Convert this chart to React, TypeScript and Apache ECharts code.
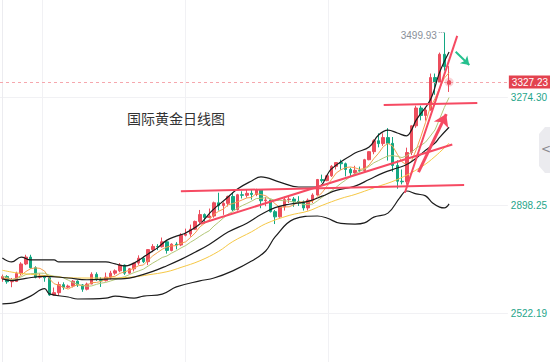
import { useEffect, useRef } from 'react';
import * as echarts from 'echarts';

// Daily OHLC (index 0 .. 95)
const opens = [
  2643, 2650, 2632, 2633, 2661, 2694, 2718, 2681, 2648, 2652,
  2646, 2586, 2594, 2622, 2613, 2617, 2634, 2621, 2606, 2624,
  2658, 2640, 2636, 2648, 2662, 2670, 2690, 2662, 2677, 2697,
  2714, 2702, 2744, 2755, 2754, 2771, 2741, 2763, 2760, 2794,
  2798, 2815, 2842, 2866, 2856, 2861, 2907, 2897, 2905, 2929,
  2883, 2935, 2933, 2940, 2936, 2953, 2914, 2917, 2876, 2858,
  2893, 2918, 2920, 2912, 2910, 2889, 2916, 2934, 2988, 2984,
  3001, 3034, 3047, 3043, 3023, 3011, 3020, 3019, 3057, 3085,
  3123, 3113, 3134, 3114, 3037, 2982, 2980, 3082, 3175, 3237,
  3211, 3230, 3343, 3327, 3424, 3320,
];
const closes = [
  2650, 2632, 2633, 2661, 2694, 2718, 2681, 2648, 2652, 2646,
  2586, 2594, 2622, 2613, 2617, 2634, 2621, 2606, 2624, 2658,
  2640, 2636, 2648, 2662, 2670, 2690, 2662, 2677, 2697, 2714,
  2702, 2744, 2755, 2754, 2771, 2741, 2763, 2760, 2794, 2798,
  2815, 2842, 2866, 2856, 2861, 2907, 2897, 2905, 2929, 2883,
  2935, 2933, 2940, 2936, 2953, 2914, 2917, 2876, 2858, 2893,
  2918, 2920, 2912, 2910, 2889, 2916, 2934, 2988, 2984, 3001,
  3034, 3047, 3043, 3023, 3011, 3020, 3019, 3057, 3085, 3123,
  3113, 3134, 3114, 3037, 2982, 2980, 3082, 3175, 3237, 3211,
  3230, 3343, 3327, 3424, 3381, 3327.23,
];
const lows = [
  2632, 2625, 2613, 2631, 2655, 2690, 2678, 2644, 2643, 2632,
  2583, 2583, 2583, 2604, 2609, 2612, 2614, 2597, 2602, 2624,
  2635, 2614, 2633, 2640, 2656, 2665, 2656, 2660, 2668, 2691,
  2697, 2690, 2735, 2742, 2751, 2730, 2738, 2745, 2756, 2790,
  2789, 2812, 2836, 2834, 2853, 2855, 2880, 2865, 2894, 2878,
  2880, 2922, 2925, 2918, 2930, 2888, 2895, 2873, 2833, 2855,
  2880, 2906, 2893, 2896, 2880, 2880, 2906, 2932, 2977, 2982,
  2997, 3023, 3022, 2999, 2999, 3006, 3013, 3016, 3055, 3076,
  3100, 3105, 3054, 3015, 2956, 2971, 2970, 3073, 3168, 3194,
  3193, 3228, 3283, 3326, 3367, 3293,
];
const highs = [
  2657, 2655, 2645, 2667, 2700, 2726, 2726, 2686, 2661, 2653,
  2651, 2612, 2632, 2630, 2622, 2638, 2637, 2624, 2629, 2665,
  2665, 2648, 2664, 2670, 2675, 2697, 2692, 2680, 2698, 2724,
  2720, 2745, 2763, 2763, 2786, 2773, 2766, 2770, 2801, 2817,
  2831, 2845, 2882, 2870, 2887, 2911, 2942, 2909, 2932, 2943,
  2938, 2947, 2955, 2954, 2956, 2954, 2928, 2918, 2882, 2895,
  2928, 2929, 2927, 2930, 2915, 2922, 2940, 2990, 3005, 3004,
  3038, 3048, 3057, 3047, 3029, 3036, 3033, 3060, 3087, 3128,
  3149, 3149, 3167, 3136, 3055, 3023, 3099, 3176, 3245, 3245,
  3240, 3357, 3357, 3430, 3499.93, 3383,
];

const ma5 = [
  2644, 2643, 2640, 2644, 2654, 2667.6, 2677.4, 2680.4, 2678.6, 2669,
  2642.6, 2625.2, 2620, 2612.2, 2606.4, 2616, 2621.4, 2618.2, 2620.4, 2628.6,
  2629.8, 2632.8, 2641.2, 2648.8, 2651.2, 2661.2, 2666.4, 2672.2, 2679.2, 2688,
  2690.4, 2706.8, 2722.4, 2733.8, 2745.2, 2753, 2756.8, 2757.8, 2765.8, 2771.2,
  2786, 2801.8, 2823, 2835.4, 2848, 2866.4, 2877.4, 2885.2, 2899.8, 2904.2,
  2909.8, 2917, 2924, 2925.4, 2939.4, 2935.2, 2932, 2919.2, 2903.6, 2891.6,
  2892.4, 2893, 2900.2, 2910.6, 2909.8, 2909.4, 2912.2, 2927.4, 2942.2, 2964.6,
  2988.2, 3010.8, 3021.8, 3029.6, 3031.6, 3028.8, 3023.2, 3026, 3038.4, 3060.8,
  3079.4, 3102.4, 3113.8, 3104.2, 3076, 3049.4, 3039, 3051.2, 3091.2, 3137,
  3187, 3239.2, 3269.6, 3307, 3341, 3360.4,
];
const ma10 = [
  2651, 2647, 2639, 2643, 2649, 2657, 2660, 2661, 2662, 2661.5,
  2655.1, 2651.3, 2650.2, 2645.4, 2637.7, 2629.3, 2623.3, 2619.1, 2616.3, 2617.5,
  2622.9, 2627.1, 2629.7, 2634.6, 2639.9, 2645.5, 2649.6, 2656.7, 2664, 2669.6,
  2675.8, 2686.6, 2697.3, 2706.5, 2716.6, 2721.7, 2731.8, 2740.1, 2749.8, 2758.2,
  2769.5, 2779.3, 2790.4, 2800.6, 2809.6, 2826.2, 2839.6, 2854.1, 2867.6, 2876.1,
  2888.1, 2897.2, 2904.6, 2912.6, 2921.8, 2922.5, 2924.5, 2921.6, 2914.5, 2915.5,
  2913.8, 2912.5, 2909.7, 2907.1, 2900.7, 2900.9, 2902.6, 2913.8, 2926.4, 2937.2,
  2948.8, 2961.5, 2974.6, 2985.9, 2998.1, 3008.5, 3017, 3023.9, 3034, 3046.2,
  3054.1, 3062.8, 3069.9, 3071.3, 3068.4, 3064.4, 3070.7, 3082.5, 3097.7, 3106.5,
  3118.2, 3139.1, 3160.4, 3199.1, 3239, 3273.7,
];

// [candle index, price] key points
const ma30Pts = [
  [0, 2672], [3, 2663], [6, 2658], [10, 2652], [14, 2646], [18, 2645], [23, 2645],
  [28, 2649], [31, 2656], [35, 2667], [38, 2682], [42, 2705], [46, 2738], [49, 2772],
  [53, 2806], [56, 2834], [61, 2863], [65, 2878], [68, 2898], [72, 2922], [75, 2936],
  [79, 2959], [84, 2988], [89, 3031], [92, 3068], [95, 3115],
];
const bollUpperPts = [
  [0, 2715], [2, 2701], [4, 2718], [6, 2708], [11, 2708], [12, 2701], [22, 2701],
  [24, 2694], [26, 2687], [28, 2697], [31, 2729], [33, 2750], [35, 2777], [37, 2791],
  [39, 2802], [42, 2833], [44.5, 2878], [47.5, 2920], [50, 2955], [53, 2983], [55, 2997],
  [59, 2979], [63, 2962], [67, 2962], [70, 3025], [75, 3080], [78, 3101], [80, 3143],
  [82, 3160], [84, 3150], [86, 3140], [87, 3160], [88, 3195], [91, 3265], [93, 3362],
  [95, 3432],
];
const bollMidPts = [
  [0, 2642], [2, 2636], [5, 2644], [9, 2651], [14, 2645], [18, 2639], [23, 2642],
  [26, 2643], [28, 2648], [32, 2668], [35, 2688], [38, 2710], [41, 2735], [44, 2762],
  [48, 2805], [52, 2836], [55, 2866], [58, 2890], [61, 2902], [65, 2912], [68, 2930],
  [71, 2950], [75, 2965], [78, 2988], [81, 3011], [84, 3028], [86, 3040], [88, 3062],
  [90, 3090], [92, 3115], [93, 3135], [95, 3170],
];
const bollLowerPts = [
  [0, 2555], [3, 2561], [6, 2582], [9, 2608], [10, 2590], [14, 2579], [16, 2572],
  [22, 2575], [24, 2582], [28, 2575], [30, 2582], [34, 2589], [37, 2614], [42, 2635],
  [45, 2645], [49, 2670], [53, 2704], [56, 2739], [58, 2788], [62, 2850], [67, 2861],
  [69, 2854], [72, 2835], [75, 2833], [77, 2837], [79, 2857], [82, 2871], [84.5, 2924],
  [86, 2948], [88, 2938], [90, 2931], [91.5, 2906], [93, 2892], [94, 2889], [95, 2903],
];

const priceTicks = [2522.19, 2898.25, 3274.3];
const timeGridIdx = [8.38, 38.82, 69.25];
const yMin = 2352.6;
const yMax = 3613.1;
const futureSlots = 12;
const lastPrice = 3327.23;
const peakPrice = 3499.93;
const peakIndex = 94;

// hand drawn annotations: [[index, price], [index, price]]
const trendLines = [
  [[37.97, 2947], [98.2, 2969]],
  [[42.13, 2834], [95.68, 3110]],
  [[81.1, 3247.5], [101.0, 3254.4]],
  [[85.6, 2942], [96.73, 3488]],
];
const upArrow = [[88.5, 3014], [94.4, 3216]];
const downArrow = [[96.4, 3433], [99.3, 3387]];
const peakTick = [[92.8, 3501], [93.9, 3501]];

const UP = '#ec4d5c';
const DOWN = '#13a782';

export default function App() {
  const ref = useRef<HTMLDivElement>(null);
  useEffect(() => {
    document.body.style.margin = '0';
    if (!ref.current) return;
    const chart = echarts.init(ref.current, undefined, { renderer: 'svg' });
    const N = closes.length;
    const slots = N + futureSlots;
    const categories = Array.from({ length: slots }, (_, i) => String(i));
    const candleData = closes.map((c, i) => [opens[i], c, lows[i], highs[i]]);
    const lineBase = (name: string, data: any, color: string, xi: number, smooth: any, width = 1) => ({
      name,
      type: 'line',
      xAxisIndex: xi,
      data,
      showSymbol: false,
      symbol: 'none',
      smooth,
      lineStyle: { color, width },
      z: 3,
      silent: true,
    });
    chart.setOption({
      animation: false,
      backgroundColor: '#ffffff',
      grid: { left: 0, right: 39, top: 0, bottom: 0, containLabel: false },
      xAxis: [
        { type: 'category', data: categories, boundaryGap: true, show: false },
        {
          type: 'value',
          min: -0.5,
          max: slots - 0.5,
          axisLine: { show: false },
          axisTick: { show: false, customValues: timeGridIdx },
          axisLabel: { show: false, customValues: timeGridIdx },
          splitLine: { show: true, lineStyle: { color: '#f1f1f4', width: 1 } },
        },
      ],
      yAxis: {
        type: 'value',
        position: 'right',
        min: yMin,
        max: yMax,
        axisLine: { show: true, lineStyle: { color: '#ececf0' } },
        axisTick: { show: false, customValues: priceTicks },
        axisLabel: {
          customValues: priceTicks,
          formatter: (v: number) => v.toFixed(2),
          color: '#1fa58a',
          fontSize: 10,
          margin: 3,
          fontFamily: 'Liberation Sans, Arial, sans-serif',
        },
        splitLine: { show: true, lineStyle: { color: '#f1f1f4', width: 1 } },
      },
      graphic: [
        {
          type: 'text',
          left: 127,
          top: 111,
          style: { text: '国际黄金日线图', fontSize: 14, fill: '#333333', fontFamily: 'Noto Sans CJK SC' },
          z: 10,
        },
        {
          type: 'polygon',
          shape: { points: [[551, 127], [545, 127], [539, 134], [539, 166], [545, 173], [551, 173]] },
          style: { fill: '#ebebef' },
          z: 10,
        },
        {
          type: 'text',
          x: 541,
          y: 143,
          style: { text: '<', fontSize: 12, fill: '#8a8a90', fontFamily: 'DejaVu Sans' },
          z: 11,
        },
      ],
      series: [
        {
          name: 'K',
          type: 'candlestick',
          xAxisIndex: 0,
          data: candleData,
          barWidth: '64%',
          itemStyle: { color: UP, color0: DOWN, borderColor: UP, borderColor0: DOWN, borderWidth: 1 },
          z: 2,
          markLine: {
            silent: true,
            symbol: 'none',
            data: [{ yAxis: lastPrice }],
            lineStyle: { type: [3, 3], color: '#f6a7ad', width: 1 },
            label: {
              show: true,
              position: 'end',
              distance: 1,
              formatter: () => lastPrice.toFixed(2),
              backgroundColor: '#e3424f',
              color: '#ffffff',
              padding: [2, 3, 1, 3],
              fontSize: 10,
              fontFamily: 'Liberation Sans, Arial, sans-serif',
            },
          },
          markPoint: {
            silent: true,
            data: [
              {
                coord: [peakIndex, peakPrice],
                symbol: 'circle',
                symbolSize: 1,
                itemStyle: { color: 'rgba(0,0,0,0)' },
                label: {
                  show: true,
                  position: 'left',
                  distance: 7,
                  offset: [0, 3],
                  formatter: () => peakPrice.toFixed(2),
                  color: '#8a8f99',
                  fontSize: 10,
                  fontFamily: 'Liberation Sans, Arial, sans-serif',
                },
              },
              {
                coord: [N - 1, lastPrice],
                symbol: 'circle',
                symbolSize: 9,
                itemStyle: { color: 'rgba(236,77,92,0.25)' },
                label: { show: false },
              },
              {
                coord: [N - 1, lastPrice],
                symbol: 'circle',
                symbolSize: 4,
                itemStyle: { color: '#ec4d5c' },
                label: { show: false },
              },
            ],
          },
        },
        lineBase('MA5', ma5, '#f5a04e', 0, false),
        lineBase('MA10', ma10, '#b3c878', 0, false),
        lineBase('MA30', ma30Pts, '#f6c845', 1, 0.4),
        lineBase('BOLL-UP', bollUpperPts, '#1c1c1c', 1, 0.4, 1.2),
        lineBase('BOLL-MID', bollMidPts, '#1c1c1c', 1, 0.4, 1.2),
        lineBase('BOLL-LOW', bollLowerPts, '#1c1c1c', 1, 0.4, 1.2),
        {
          name: 'annot',
          type: 'line',
          xAxisIndex: 1,
          data: [],
          z: 5,
          silent: true,
          markLine: {
            silent: true,
            symbol: ['none', 'none'],
            label: { show: false },
            lineStyle: { color: '#f64a62', width: 2, type: 'solid' },
            data: trendLines.map(([a, b]) => [{ coord: a }, { coord: b }]),
          },
        },
        {
          name: 'arrowUp',
          type: 'line',
          xAxisIndex: 1,
          data: [],
          z: 6,
          silent: true,
          markLine: {
            silent: true,
            symbol: ['none', 'arrow'],
            symbolSize: 12,
            label: { show: false },
            lineStyle: { color: '#f64a62', width: 3, type: 'solid' },
            data: [[{ coord: upArrow[0] }, { coord: upArrow[1] }]],
          },
        },
        {
          name: 'arrowDown',
          type: 'line',
          xAxisIndex: 1,
          data: [],
          z: 6,
          silent: true,
          markLine: {
            silent: true,
            symbol: ['none', 'arrow'],
            symbolSize: 8,
            label: { show: false },
            lineStyle: { color: '#25c08e', width: 2, type: 'solid' },
            data: [[{ coord: downArrow[0] }, { coord: downArrow[1] }]],
          },
        },
        {
          name: 'peakTick',
          type: 'line',
          xAxisIndex: 1,
          data: [],
          z: 6,
          silent: true,
          markLine: {
            silent: true,
            symbol: ['none', 'none'],
            label: { show: false },
            lineStyle: { color: '#9aa0aa', width: 1, type: [1, 1] },
            data: [[{ coord: peakTick[0] }, { coord: peakTick[1] }]],
          },
        },
      ],
    });
    return () => chart.dispose();
  }, []);
  return <div ref={ref} style={{ width: 550, height: 362 }} />;
}
